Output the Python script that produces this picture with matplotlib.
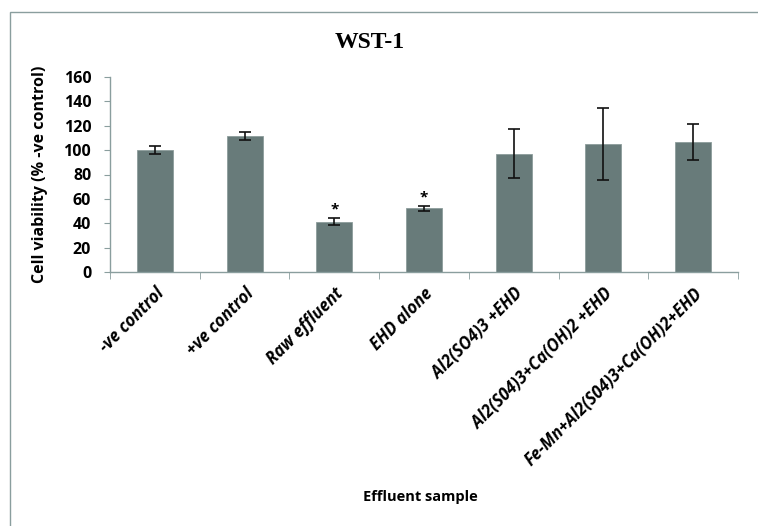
import matplotlib
matplotlib.use("Agg")
import matplotlib.pyplot as plt
from matplotlib.patches import Rectangle
import numpy as np

categories = ["-ve control", "+ve control", "Raw effluent", "EHD alone",
              "Al2(SO4)3 +EHD", "Al2(S04)3+Ca(OH)2 +EHD",
              "Fe-Mn+Al2(S04)3+Ca(OH)2+EHD"]
viability = [100, 111.5, 41.2, 52.2, 97, 105, 106.5]
errors = [3, 3.4, 3, 2, 20, 29.4, 15]
significant = [False, False, True, True, False, False, False]

W, H = 758, 526
SANS = "Open Sans"
fig = plt.figure(figsize=(W / 100, H / 100), dpi=100)

# outer frame like the exported chart area
fig.patches.append(Rectangle((10 / W, -0.1), 1.2, 1 - 12 / H + 0.1,
                             transform=fig.transFigure, fill=False,
                             edgecolor="#8A9E9E", linewidth=1.0))

ax = fig.add_axes([110 / W, (H - 272) / H, (738 - 110) / W, (272 - 77) / H])

x = np.arange(len(categories))
ax.bar(x, viability, width=0.4, color="#687B7A", edgecolor="#8C9C9B",
       linewidth=0.6, zorder=2)
ax.errorbar(x, viability, yerr=errors, fmt="none", ecolor="#111111",
            elinewidth=1.2, capsize=4, capthick=1.2, zorder=3)

for xi, v, e, s in zip(x, viability, errors, significant):
    if s:
        ax.text(xi, v + e + 1, "*", ha="center", va="bottom",
                fontsize=11, fontweight="bold", family=SANS)

ax.set_xlim(-0.5, len(categories) - 0.5)
ax.set_ylim(0, 160)
ax.set_yticks(np.arange(0, 161, 20))
ax.set_yticklabels([str(v) for v in range(0, 161, 20)],
                   family=SANS, fontweight="bold", fontsize=11.5)

ax.set_xticks(x)
ax.set_xticklabels(categories, rotation=45, ha="right",
                   rotation_mode="anchor", family=SANS,
                   fontstyle="italic", fontweight="bold", fontsize=12)
ax.tick_params(axis="x", length=0, pad=9)
ax.set_xticks(np.arange(-0.5, len(categories), 1.0), minor=True)
ax.tick_params(axis="x", which="minor", length=5, color="#8A9E9E",
               direction="out")
ax.tick_params(axis="y", length=4.5, color="#8A9E9E", direction="out", pad=9)

for side in ["top", "right"]:
    ax.spines[side].set_visible(False)
for side in ["left", "bottom"]:
    ax.spines[side].set_color("#8A9E9E")
    ax.spines[side].set_linewidth(1.0)

ax.set_ylabel("Cell viability (% -ve control)", family=SANS,
              fontweight="bold", fontsize=11.5, labelpad=11)

fig.text(370 / W, 1 - 42 / H, "WST-1", ha="center", va="center",
         family="Liberation Serif", fontweight="bold", fontsize=17)
fig.text(420 / W, 1 - 497 / H, "Effluent sample", ha="center", va="center",
         family=SANS, fontweight="bold", fontsize=10.5)

fig.savefig("out.png", dpi=100)
